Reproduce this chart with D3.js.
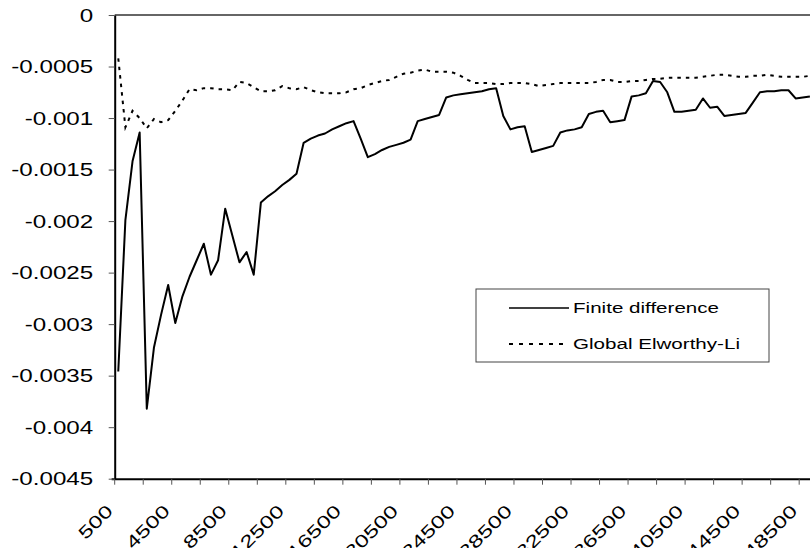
<!DOCTYPE html>
<html lang="en">
<head>
    <meta charset="UTF-8">
    <title>Finite difference vs Global Elworthy-Li</title>
    <style>
        body { margin: 0; background: #fff; }
        text { font-family: "Liberation Sans", Arial, sans-serif; fill: #000; }
    </style>
</head>
<body>
<script src="https://cdn.jsdelivr.net/npm/d3@7"></script>
<script>
    // categories: 500, 1000, ... 49000 (step 500)
    const categories = d3.range(500, 49001, 500);
    const tickLabels = ["500", "4500", "8500", "12500", "16500", "20500", "24500",
                        "28500", "32500", "36500", "40500", "44500", "48500"];
    const yTicks = [0, -0.0005, -0.001, -0.0015, -0.002, -0.0025, -0.003, -0.0035, -0.004, -0.0045];

    const finiteDifference = [
        -0.00346, -0.00199, -0.00142, -0.00114, -0.00382, -0.00323, -0.00291, -0.00262, -0.00299, -0.00273,
        -0.00254, -0.00238, -0.00222, -0.00252, -0.00238, -0.00188, -0.00214, -0.0024, -0.0023, -0.00252,
        -0.00182, -0.00176, -0.00171, -0.00165, -0.0016, -0.00154, -0.00124, -0.0012, -0.00117, -0.00115,
        -0.00111, -0.00108, -0.00105, -0.00103, -0.0012, -0.00138, -0.00135, -0.00131, -0.00128, -0.00126,
        -0.00124, -0.00121, -0.00103, -0.00101, -0.00099, -0.00097, -0.0008, -0.00078, -0.00077, -0.00076,
        -0.00075, -0.00074, -0.00072, -0.00071, -0.00098, -0.00111, -0.00109, -0.00108, -0.00133, -0.00131,
        -0.00129, -0.00127, -0.00114, -0.00112, -0.00111, -0.00109, -0.00096, -0.00094, -0.00093, -0.00104,
        -0.00103, -0.00102, -0.00079, -0.00078, -0.00076, -0.00064, -0.00065, -0.00075, -0.00094, -0.00094,
        -0.00093, -0.00092, -0.00081, -0.0009, -0.00089, -0.00098, -0.00097, -0.00096, -0.00095, -0.00085,
        -0.00075, -0.00074, -0.00074, -0.00073, -0.00073, -0.00081, -0.0008, -0.00079
    ];
    const globalElworthyLi = [
        -0.00042, -0.00109, -0.00093, -0.001, -0.0011, -0.00101, -0.00104, -0.00102, -0.00093, -0.00083,
        -0.00072, -0.00073, -0.00071, -0.00071, -0.00072, -0.00072, -0.00073, -0.00065, -0.00066, -0.0007,
        -0.00074, -0.00074, -0.00073, -0.00069, -0.00071, -0.00072, -0.0007, -0.00073, -0.00075, -0.00076,
        -0.00076, -0.00076, -0.00075, -0.00072, -0.00071, -0.00068, -0.00066, -0.00064, -0.00063, -0.0006,
        -0.00057, -0.00056, -0.00054, -0.00053, -0.00055, -0.00055, -0.00055, -0.00056, -0.00059, -0.00063,
        -0.00066, -0.00066, -0.00066, -0.00067, -0.00067, -0.00066, -0.00066, -0.00066, -0.00067, -0.00069,
        -0.00068, -0.00067, -0.00066, -0.00066, -0.00066, -0.00066, -0.00066, -0.00065, -0.00063, -0.00063,
        -0.00065, -0.00065, -0.00064, -0.00064, -0.00063, -0.00062, -0.00062, -0.00061, -0.00061, -0.00061,
        -0.00061, -0.00061, -0.0006, -0.00059, -0.00058, -0.00058, -0.00059, -0.0006, -0.0006, -0.00059,
        -0.00059, -0.00058, -0.00059, -0.0006, -0.0006, -0.0006, -0.0006, -0.00059
    ];
    const seriesNames = ["Finite difference", "Global Elworthy-Li"];

    const width = 810, height = 548;
    const plot = {left: 114.7, top: 15, bottom: 478.7, right: 827.7};
    const stretch = 1.38;   // text in the reference is drawn wide

    // category axis: 100 bands from 500 to 50000, plot cut at the window edge
    const bandDomain = d3.range(500, 50001, 500);
    const x = d3.scaleBand()
            .domain(bandDomain)
            .range([plot.left, plot.right]);
    const bw = x.bandwidth();
    const cx = c => x(c) + bw / 2;

    const y = d3.scaleLinear()
            .domain([-0.0045, 0])
            .range([plot.bottom, plot.top]);

    const svg = d3.select("body")
            .append("svg")
            .attr("width", width)
            .attr("height", height)
            .attr("viewBox", [0, 0, width, height]);

    // plot area top border
    svg.append("line")
        .attr("x1", plot.left).attr("x2", plot.right)
        .attr("y1", plot.top).attr("y2", plot.top)
        .attr("stroke", "#333").attr("stroke-width", 1.5);

    const line = d3.line()
            .x((d, i) => cx(categories[i]))
            .y(d => y(d));

    svg.append("path")
        .datum(finiteDifference)
        .attr("fill", "none")
        .attr("stroke", "#000")
        .attr("stroke-width", 2)
        .attr("stroke-linejoin", "round")
        .attr("d", line);

    svg.append("path")
        .datum(globalElworthyLi)
        .attr("fill", "none")
        .attr("stroke", "#000")
        .attr("stroke-width", 2)
        .attr("stroke-dasharray", "3.5,5")
        .attr("d", line);

    // y axis
    const yAxis = g => g
            .attr("transform", `translate(${plot.left},0)`)
            .call(d3.axisLeft(y).tickValues(yTicks).tickSize(6).tickSizeOuter(0)
                .tickFormat(d => d === 0 ? "0" : String(d)))
            .call(g => g.select(".domain").attr("stroke", "#000").attr("stroke-width", 2))
            .call(g => g.selectAll(".tick line").attr("stroke", "#555"))
            .call(g => g.selectAll(".tick text")
                .attr("x", null).attr("dy", "0.35em")
                .attr("text-anchor", "end")
                .style("font-size", "17.5px")
                .attr("transform", `translate(-21.5,0) scale(${stretch},1)`));

    // x axis: tick marks every 4 categories on band edges, labels every 8
    const tickCats = bandDomain.filter((d, i) => i % 4 === 0);
    const xAxis = g => g
            .attr("transform", `translate(${-bw / 2},${plot.bottom})`)
            .call(d3.axisBottom(x).tickValues(tickCats).tickSize(6).tickSizeOuter(0)
                .tickFormat((d, i) => i % 2 === 0 ? (tickLabels[i / 2] || "") : ""))
            .call(g => g.select(".domain").attr("stroke", "#000").attr("stroke-width", 2))
            .call(g => g.selectAll(".tick line").attr("stroke", "#555"))
            .call(g => g.selectAll(".tick text")
                .attr("y", null).attr("dy", "0.35em")
                .attr("text-anchor", "end")
                .style("font-size", "17.5px")
                .attr("transform", `translate(-5,29) rotate(-45) scale(${stretch},1)`));

    svg.append("g").call(xAxis);
    svg.append("g").call(yAxis);

    // legend
    const legend = svg.append("g").attr("transform", "translate(476,289)");
    legend.append("rect")
        .attr("width", 293).attr("height", 73)
        .attr("fill", "#fff").attr("stroke", "#444").attr("stroke-width", 1);

    const entries = legend.selectAll("g.entry")
            .data(seriesNames)
            .join("g")
            .attr("class", "entry")
            .attr("transform", (d, i) => `translate(0,${19 + i * 36})`);

    entries.append("line")
        .attr("x1", 33).attr("x2", 93)
        .attr("stroke", "#000")
        .attr("stroke-width", (d, i) => i === 0 ? 1.5 : 2)
        .attr("stroke-dasharray", (d, i) => i === 0 ? null : "4,6");

    entries.append("text")
        .attr("dy", "0.35em")
        .style("font-size", "14.5px")
        .attr("transform", `translate(97,0) scale(1.42,1)`)
        .text(d => d);
</script>
</body>
</html>
